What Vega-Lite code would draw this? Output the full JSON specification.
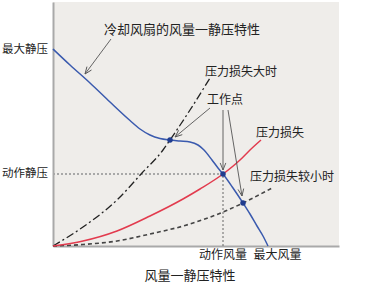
{
  "$schema": "https://vega.github.io/schema/vega-lite/v6.json",
  "width": 286,
  "height": 244,
  "autosize": {"type": "none"},
  "padding": {"left": 53, "top": 2, "right": 31, "bottom": 40},
  "background": "#ffffff",
  "config": {
    "view": {"fill": "#efedea", "stroke": null},
    "axis": {"domainColor": "#a9a9a9", "domainWidth": 2, "ticks": false, "labels": false, "grid": false},
    "text": {"font": "Noto Sans CJK SC", "fontSize": 12, "color": "#222222"}
  },
  "datasets": {
    "fan": [
      {"x": 0, "y": 197}, {"x": 17, "y": 181}, {"x": 37, "y": 163}, {"x": 57, "y": 144},
      {"x": 77, "y": 125.5}, {"x": 87, "y": 117}, {"x": 97, "y": 111}, {"x": 107, "y": 107.5},
      {"x": 117, "y": 106}, {"x": 127, "y": 105}, {"x": 137, "y": 104}, {"x": 145, "y": 101},
      {"x": 151, "y": 96}, {"x": 159, "y": 86}, {"x": 165, "y": 78}, {"x": 170, "y": 72},
      {"x": 180, "y": 58}, {"x": 190, "y": 43}, {"x": 197, "y": 32}, {"x": 204, "y": 20},
      {"x": 210, "y": 10}, {"x": 215, "y": 0}
    ],
    "loss": [
      {"x": 0, "y": 0}, {"x": 30, "y": 5}, {"x": 64, "y": 15}, {"x": 97, "y": 30},
      {"x": 130, "y": 47}, {"x": 147, "y": 57}, {"x": 170, "y": 72}, {"x": 187, "y": 86},
      {"x": 197, "y": 96}, {"x": 208, "y": 106}
    ],
    "lossHigh": [
      {"x": 0, "y": 0}, {"x": 30, "y": 19}, {"x": 64, "y": 46}, {"x": 89, "y": 73},
      {"x": 110, "y": 96}, {"x": 117, "y": 106}, {"x": 137, "y": 136}, {"x": 157, "y": 168}
    ],
    "lossLow": [
      {"x": 0, "y": 0}, {"x": 30, "y": 1.5}, {"x": 64, "y": 5}, {"x": 97, "y": 12},
      {"x": 132, "y": 20.5}, {"x": 170, "y": 34}, {"x": 190, "y": 43}, {"x": 219, "y": 58}
    ],
    "points": [{"x": 117, "y": 106}, {"x": 170, "y": 72}, {"x": 190, "y": 43}],
    "hline": [{"x": 0, "y": 72}, {"x": 170, "y": 72}],
    "vline": [{"x": 170, "y": 0}, {"x": 170, "y": 72}],
    "arrows": [
      {"x1": 58, "y1": 207, "x2": 32, "y2": 172},
      {"x1": 157, "y1": 138, "x2": 122, "y2": 109},
      {"x1": 170, "y1": 136, "x2": 170, "y2": 76},
      {"x1": 175, "y1": 136, "x2": 189, "y2": 50}
    ],
    "labelsLeft": [
      {"text": "冷却风扇的风量一静压特性", "x": 51, "y": 216, "big": true},
      {"text": "压力损失大时", "x": 152, "y": 174},
      {"text": "工作点", "x": 154, "y": 146},
      {"text": "压力损失", "x": 203, "y": 113},
      {"text": "压力损失较小时", "x": 197, "y": 69}
    ],
    "labelsCenter": [
      {"text": "动作风量", "x": 170, "y": -9},
      {"text": "最大风量", "x": 224.5, "y": -9}
    ],
    "labelsRight": [
      {"text": "最大静压", "x": -5, "y": 196},
      {"text": "动作静压", "x": -5, "y": 72}
    ],
    "title": [{"text": "风量一静压特性", "x": 137, "y": -30}]
  },
  "layer": [
    {
      "data": {"name": "hline"},
      "mark": {"type": "line", "color": "#a8a8a8", "strokeWidth": 2, "strokeDash": [2, 2]},
      "encoding": {
        "x": {"field": "x", "type": "quantitative", "scale": {"domain": [0, 286], "nice": false, "zero": false}, "title": null},
        "y": {"field": "y", "type": "quantitative", "scale": {"domain": [0, 244], "nice": false, "zero": false}, "title": null}
      }
    },
    {
      "data": {"name": "vline"},
      "mark": {"type": "line", "color": "#666666", "strokeWidth": 1, "strokeDash": [2, 2]},
      "encoding": {
        "x": {"field": "x", "type": "quantitative"},
        "y": {"field": "y", "type": "quantitative"}
      }
    },
    {
      "data": {"name": "lossLow"},
      "mark": {"type": "line", "color": "#444444", "strokeWidth": 1.6, "strokeDash": [4, 3], "interpolate": "monotone"},
      "encoding": {
        "x": {"field": "x", "type": "quantitative"},
        "y": {"field": "y", "type": "quantitative"}
      }
    },
    {
      "data": {"name": "lossHigh"},
      "mark": {"type": "line", "color": "#222222", "strokeWidth": 1.3, "strokeDash": [8, 3, 2, 3], "interpolate": "monotone"},
      "encoding": {
        "x": {"field": "x", "type": "quantitative"},
        "y": {"field": "y", "type": "quantitative"}
      }
    },
    {
      "data": {"name": "loss"},
      "mark": {"type": "line", "color": "#e23b4e", "strokeWidth": 1.5, "interpolate": "monotone"},
      "encoding": {
        "x": {"field": "x", "type": "quantitative"},
        "y": {"field": "y", "type": "quantitative"}
      }
    },
    {
      "data": {"name": "fan"},
      "mark": {"type": "line", "color": "#3a5aae", "strokeWidth": 1.5, "interpolate": "monotone"},
      "encoding": {
        "x": {"field": "x", "type": "quantitative"},
        "y": {"field": "y", "type": "quantitative"}
      }
    },
    {
      "data": {"name": "points"},
      "mark": {"type": "point", "filled": true, "color": "#1f3c8f", "size": 30, "opacity": 1},
      "encoding": {
        "x": {"field": "x", "type": "quantitative"},
        "y": {"field": "y", "type": "quantitative"}
      }
    },
    {
      "data": {"name": "arrows"},
      "mark": {"type": "rule", "color": "#555555", "strokeWidth": 0.9},
      "encoding": {
        "x": {"field": "x1", "type": "quantitative"},
        "y": {"field": "y1", "type": "quantitative"},
        "x2": {"field": "x2"},
        "y2": {"field": "y2"}
      }
    },
    {
      "data": {"name": "arrows"},
      "transform": [{"filter": "datum.x1 == 58"}],
      "mark": {"type": "point", "shape": "M -0.4 -1 L 0 0 L 0.4 -1", "filled": false, "color": "#555555", "strokeWidth": 0.9, "size": 200, "angle": 36.6, "opacity": 1},
      "encoding": {
        "x": {"field": "x2", "type": "quantitative"},
        "y": {"field": "y2", "type": "quantitative"}
      }
    },
    {
      "data": {"name": "arrows"},
      "transform": [{"filter": "datum.x1 == 157"}],
      "mark": {"type": "point", "shape": "M -0.4 -1 L 0 0 L 0.4 -1", "filled": false, "color": "#555555", "strokeWidth": 0.9, "size": 200, "angle": 50.4, "opacity": 1},
      "encoding": {
        "x": {"field": "x2", "type": "quantitative"},
        "y": {"field": "y2", "type": "quantitative"}
      }
    },
    {
      "data": {"name": "arrows"},
      "transform": [{"filter": "datum.x1 == 170"}],
      "mark": {"type": "point", "shape": "M -0.4 -1 L 0 0 L 0.4 -1", "filled": false, "color": "#555555", "strokeWidth": 0.9, "size": 200, "angle": 0, "opacity": 1},
      "encoding": {
        "x": {"field": "x2", "type": "quantitative"},
        "y": {"field": "y2", "type": "quantitative"}
      }
    },
    {
      "data": {"name": "arrows"},
      "transform": [{"filter": "datum.x1 == 175"}],
      "mark": {"type": "point", "shape": "M -0.4 -1 L 0 0 L 0.4 -1", "filled": false, "color": "#555555", "strokeWidth": 0.9, "size": 200, "angle": -9.2, "opacity": 1},
      "encoding": {
        "x": {"field": "x2", "type": "quantitative"},
        "y": {"field": "y2", "type": "quantitative"}
      }
    },
    {
      "data": {"name": "labelsLeft"},
      "transform": [{"filter": "datum.big"}],
      "mark": {"type": "text", "align": "left", "baseline": "middle", "fontSize": 13},
      "encoding": {
        "x": {"field": "x", "type": "quantitative"},
        "y": {"field": "y", "type": "quantitative"},
        "text": {"field": "text"}
      }
    },
    {
      "data": {"name": "labelsLeft"},
      "transform": [{"filter": "!datum.big"}],
      "mark": {"type": "text", "align": "left", "baseline": "middle"},
      "encoding": {
        "x": {"field": "x", "type": "quantitative"},
        "y": {"field": "y", "type": "quantitative"},
        "text": {"field": "text"}
      }
    },
    {
      "data": {"name": "labelsCenter"},
      "mark": {"type": "text", "align": "center", "baseline": "middle"},
      "encoding": {
        "x": {"field": "x", "type": "quantitative"},
        "y": {"field": "y", "type": "quantitative"},
        "text": {"field": "text"}
      }
    },
    {
      "data": {"name": "labelsRight"},
      "mark": {"type": "text", "align": "right", "baseline": "middle", "fontSize": 11.5},
      "encoding": {
        "x": {"field": "x", "type": "quantitative"},
        "y": {"field": "y", "type": "quantitative"},
        "text": {"field": "text"}
      }
    },
    {
      "data": {"name": "title"},
      "mark": {"type": "text", "align": "center", "baseline": "middle", "fontSize": 13},
      "encoding": {
        "x": {"field": "x", "type": "quantitative"},
        "y": {"field": "y", "type": "quantitative"},
        "text": {"field": "text"}
      }
    }
  ]
}
